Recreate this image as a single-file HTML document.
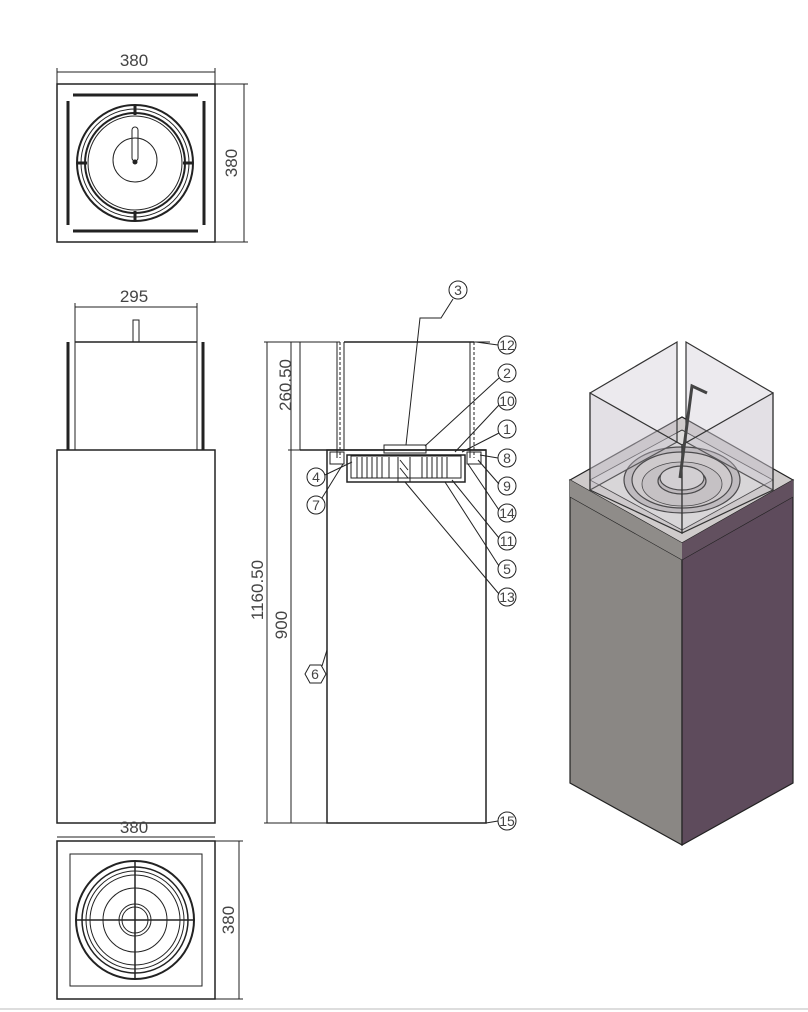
<!DOCTYPE html>
<html><head><meta charset="utf-8"><style>
html,body{margin:0;padding:0;background:#fff;}
svg{display:block;}
text{font-family:"Liberation Sans Narrow","Liberation Sans",sans-serif;fill:#444;}
</style></head><body>
<svg width="808" height="1012" viewBox="0 0 808 1012" xmlns="http://www.w3.org/2000/svg">
<g stroke="#222" fill="none" stroke-width="1">
<!-- TOP VIEW -->
<rect x="57" y="84" width="158" height="158" stroke-width="1.5"/>
<line x1="57" y1="72" x2="215" y2="72"/><line x1="57" y1="68" x2="57" y2="84"/><line x1="215" y1="68" x2="215" y2="84"/>
<line x1="244" y1="84" x2="244" y2="242"/><line x1="215" y1="84" x2="248" y2="84"/><line x1="215" y1="242" x2="248" y2="242"/>
<g stroke-width="3"><line x1="73" y1="95" x2="198" y2="95"/><line x1="73" y1="231" x2="198" y2="231"/><line x1="68" y1="101" x2="68" y2="225"/><line x1="204" y1="101" x2="204" y2="225"/></g>
<circle cx="135" cy="163" r="58" stroke-width="2"/><circle cx="135" cy="163" r="54"/><circle cx="135" cy="163" r="50" stroke-width="2"/><circle cx="135" cy="163" r="47"/>
<circle cx="135" cy="160" r="22"/>
<rect x="132" y="127" width="6" height="34" rx="3"/><circle cx="135" cy="162" r="2" fill="#222"/>
<g stroke-width="3"><line x1="135" y1="105" x2="135" y2="115"/><line x1="135" y1="211" x2="135" y2="221"/><line x1="77" y1="163" x2="87" y2="163"/><line x1="183" y1="163" x2="193" y2="163"/></g>
<!-- FRONT VIEW -->
<line x1="75" y1="307" x2="197" y2="307"/><line x1="75" y1="303" x2="75" y2="342"/><line x1="197" y1="303" x2="197" y2="342"/>
<line x1="75" y1="342" x2="197" y2="342" stroke-width="1.5"/>
<line x1="75" y1="342" x2="75" y2="450"/><line x1="197" y1="342" x2="197" y2="450"/>
<line x1="68" y1="342" x2="68" y2="450" stroke-width="3"/><line x1="203" y1="342" x2="203" y2="450" stroke-width="3"/>
<rect x="133" y="320" width="6" height="22"/>
<rect x="57" y="450" width="158" height="373" stroke-width="1.5"/>
<!-- BOTTOM VIEW -->
<line x1="57" y1="837" x2="215" y2="837"/>
<rect x="57" y="841" width="158" height="158" stroke-width="1.5"/>
<rect x="70" y="854" width="132" height="132"/>
<line x1="239" y1="841" x2="239" y2="999"/><line x1="215" y1="841" x2="243" y2="841"/><line x1="215" y1="999" x2="243" y2="999"/>
<circle cx="135" cy="920" r="59" stroke-width="2"/><circle cx="135" cy="920" r="53" stroke-width="1.5"/><circle cx="135" cy="920" r="49"/><circle cx="135" cy="920" r="45"/><circle cx="135" cy="920" r="32"/><circle cx="135" cy="920" r="16"/><circle cx="135" cy="920" r="13"/>
<line x1="135" y1="861" x2="135" y2="979" stroke-width="1.5"/><line x1="76" y1="920" x2="194" y2="920" stroke-width="1.5"/>
<!-- SECTION VIEW -->
<line x1="267" y1="342" x2="267" y2="823"/><line x1="291" y1="342" x2="291" y2="823"/>
<line x1="264" y1="342" x2="340" y2="342"/><line x1="288" y1="450" x2="327" y2="450"/><line x1="264" y1="823" x2="327" y2="823"/>
<line x1="300" y1="342" x2="300" y2="450"/>
<line x1="344" y1="342" x2="474" y2="342" stroke-width="1.5"/>
<line x1="337" y1="342" x2="337" y2="458"/><line x1="340" y1="342" x2="340" y2="458" stroke-dasharray="3 2"/>
<line x1="344" y1="342" x2="344" y2="450"/>
<line x1="470" y1="342" x2="470" y2="458"/><line x1="474" y1="342" x2="474" y2="458" stroke-dasharray="3 2"/>
<line x1="474" y1="342" x2="490" y2="342"/>
<line x1="300" y1="450" x2="486" y2="450" stroke-width="1.5"/>
<rect x="327" y="450" width="159" height="373" stroke-width="1.5"/>
<rect x="347" y="455" width="118" height="27" stroke-width="1.5"/>
<rect x="351" y="456" width="110" height="22"/>
<rect x="384" y="445" width="42" height="8"/>
<g stroke-width="1">
<line x1="357" y1="457" x2="357" y2="478"/><line x1="362" y1="457" x2="362" y2="478"/><line x1="367" y1="457" x2="367" y2="478"/><line x1="372" y1="457" x2="372" y2="478"/><line x1="377" y1="457" x2="377" y2="478"/><line x1="382" y1="457" x2="382" y2="478"/><line x1="389" y1="457" x2="389" y2="478"/>
<line x1="398" y1="457" x2="398" y2="482"/><line x1="410" y1="457" x2="410" y2="482"/>
<line x1="422" y1="457" x2="422" y2="478"/><line x1="427" y1="457" x2="427" y2="478"/><line x1="432" y1="457" x2="432" y2="478"/><line x1="437" y1="457" x2="437" y2="478"/><line x1="442" y1="457" x2="442" y2="478"/><line x1="447" y1="457" x2="447" y2="478"/>
<line x1="400" y1="460" x2="408" y2="470"/><line x1="400" y1="468" x2="408" y2="478"/>
</g>
<rect x="330" y="452" width="14" height="12"/><rect x="467" y="452" width="14" height="12"/>
<!-- leaders -->
<path d="M453 299 L441 318 L420 318 L406 445"/>
<line x1="498" y1="345" x2="476" y2="342"/>
<line x1="499" y1="378" x2="425" y2="446"/>
<line x1="499" y1="405" x2="455" y2="452"/>
<line x1="499" y1="433" x2="462" y2="452"/>
<line x1="498" y1="458" x2="480" y2="455"/>
<line x1="499" y1="484" x2="478" y2="460"/>
<line x1="499" y1="510" x2="468" y2="464"/>
<line x1="499" y1="538" x2="452" y2="480"/>
<line x1="499" y1="566" x2="445" y2="482"/>
<line x1="499" y1="594" x2="405" y2="482"/>
<line x1="325" y1="475" x2="352" y2="462"/>
<line x1="322" y1="498" x2="343" y2="464"/>
<line x1="322" y1="666" x2="327" y2="650"/>
<line x1="498" y1="821" x2="486" y2="823"/>
<!-- callout circles -->
<circle cx="458" cy="290" r="9"/>
<circle cx="507" cy="345" r="9"/><circle cx="507" cy="373" r="9"/><circle cx="507" cy="401" r="9"/><circle cx="507" cy="429" r="9"/><circle cx="507" cy="458" r="9"/><circle cx="507" cy="486" r="9"/><circle cx="507" cy="513" r="9"/><circle cx="507" cy="541" r="9"/><circle cx="507" cy="569" r="9"/><circle cx="507" cy="597" r="9"/><circle cx="507" cy="821" r="9"/>
<circle cx="316" cy="477" r="9"/><circle cx="316" cy="505" r="9"/>
<polygon points="305,674 310,665 321,665 326,674 321,683 310,683"/>
</g>
<line x1="0" y1="1009" x2="808" y2="1009" stroke="#ddd" stroke-width="2"/>
<!-- labels -->
<g font-size="17" text-anchor="middle">
<text x="134" y="66">380</text>
<text x="134" y="302">295</text>
<text x="134" y="833">380</text>
<text transform="translate(237,163) rotate(-90)">380</text>
<text transform="translate(234,920) rotate(-90)">380</text>
<text transform="translate(291,385) rotate(-90)">260.50</text>
<text transform="translate(263,590) rotate(-90)">1160.50</text>
<text transform="translate(287,625) rotate(-90)">900</text>
</g>
<g font-size="14" text-anchor="middle">
<text x="458" y="295">3</text>
<text x="507" y="350">12</text><text x="507" y="378">2</text><text x="507" y="406">10</text><text x="507" y="434">1</text><text x="507" y="463">8</text><text x="507" y="491">9</text><text x="507" y="518">14</text><text x="507" y="546">11</text><text x="507" y="574">5</text><text x="507" y="602">13</text><text x="507" y="826">15</text>
<text x="316" y="482">4</text><text x="316" y="510">7</text><text x="315" y="679">6</text>
</g>
<!-- ISOMETRIC -->
<g stroke="#222" stroke-width="1.2">
<polygon points="570,480 682,543 682,845 570,783" fill="#8a8784"/>
<polygon points="682,543 793,480 793,783 682,845" fill="#5e4b5c"/>
<polygon points="570,480 682,417 793,480 682,543" fill="#cfcbcb"/>
<polygon points="570,480 682,543 682,560 570,497" fill="#8f8c89" stroke="none"/>
<polygon points="682,543 793,480 793,497 682,560" fill="#62505f" stroke="none"/>
<line x1="570" y1="497" x2="682" y2="560" stroke-width="0.6"/><line x1="682" y1="560" x2="793" y2="497" stroke-width="0.6"/>
<polygon points="590,480 682,430 773,480 682,530" fill="#dedcdc" stroke-width="0.8"/>
<ellipse cx="682" cy="480" rx="58" ry="33" fill="#bdb8bb"/>
<ellipse cx="682" cy="480" rx="50" ry="28" fill="#d0cccd"/>
<ellipse cx="682" cy="484" rx="40" ry="22" fill="#c4c0c2" stroke-width="0.8"/>
<ellipse cx="682" cy="481" rx="24" ry="13" fill="#bbb6b8"/>
<ellipse cx="682" cy="478" rx="22" ry="12" fill="#d6d3d4"/>
</g>
<g stroke="#333" stroke-width="1.2" fill="rgba(200,196,205,0.35)">
<polygon points="590,393 677,342 677,442 590,490"/>
<polygon points="686,342 773,393 773,490 686,442"/>
<polygon points="590,393 682,445 682,533 590,490" fill="rgba(200,196,205,0.25)"/>
<polygon points="773,393 682,445 682,533 773,490" fill="rgba(200,196,205,0.25)"/>
</g>
<path d="M680 478 L692 386 L707 393" stroke="#444" stroke-width="3" fill="none"/>
</svg>
</body></html>
